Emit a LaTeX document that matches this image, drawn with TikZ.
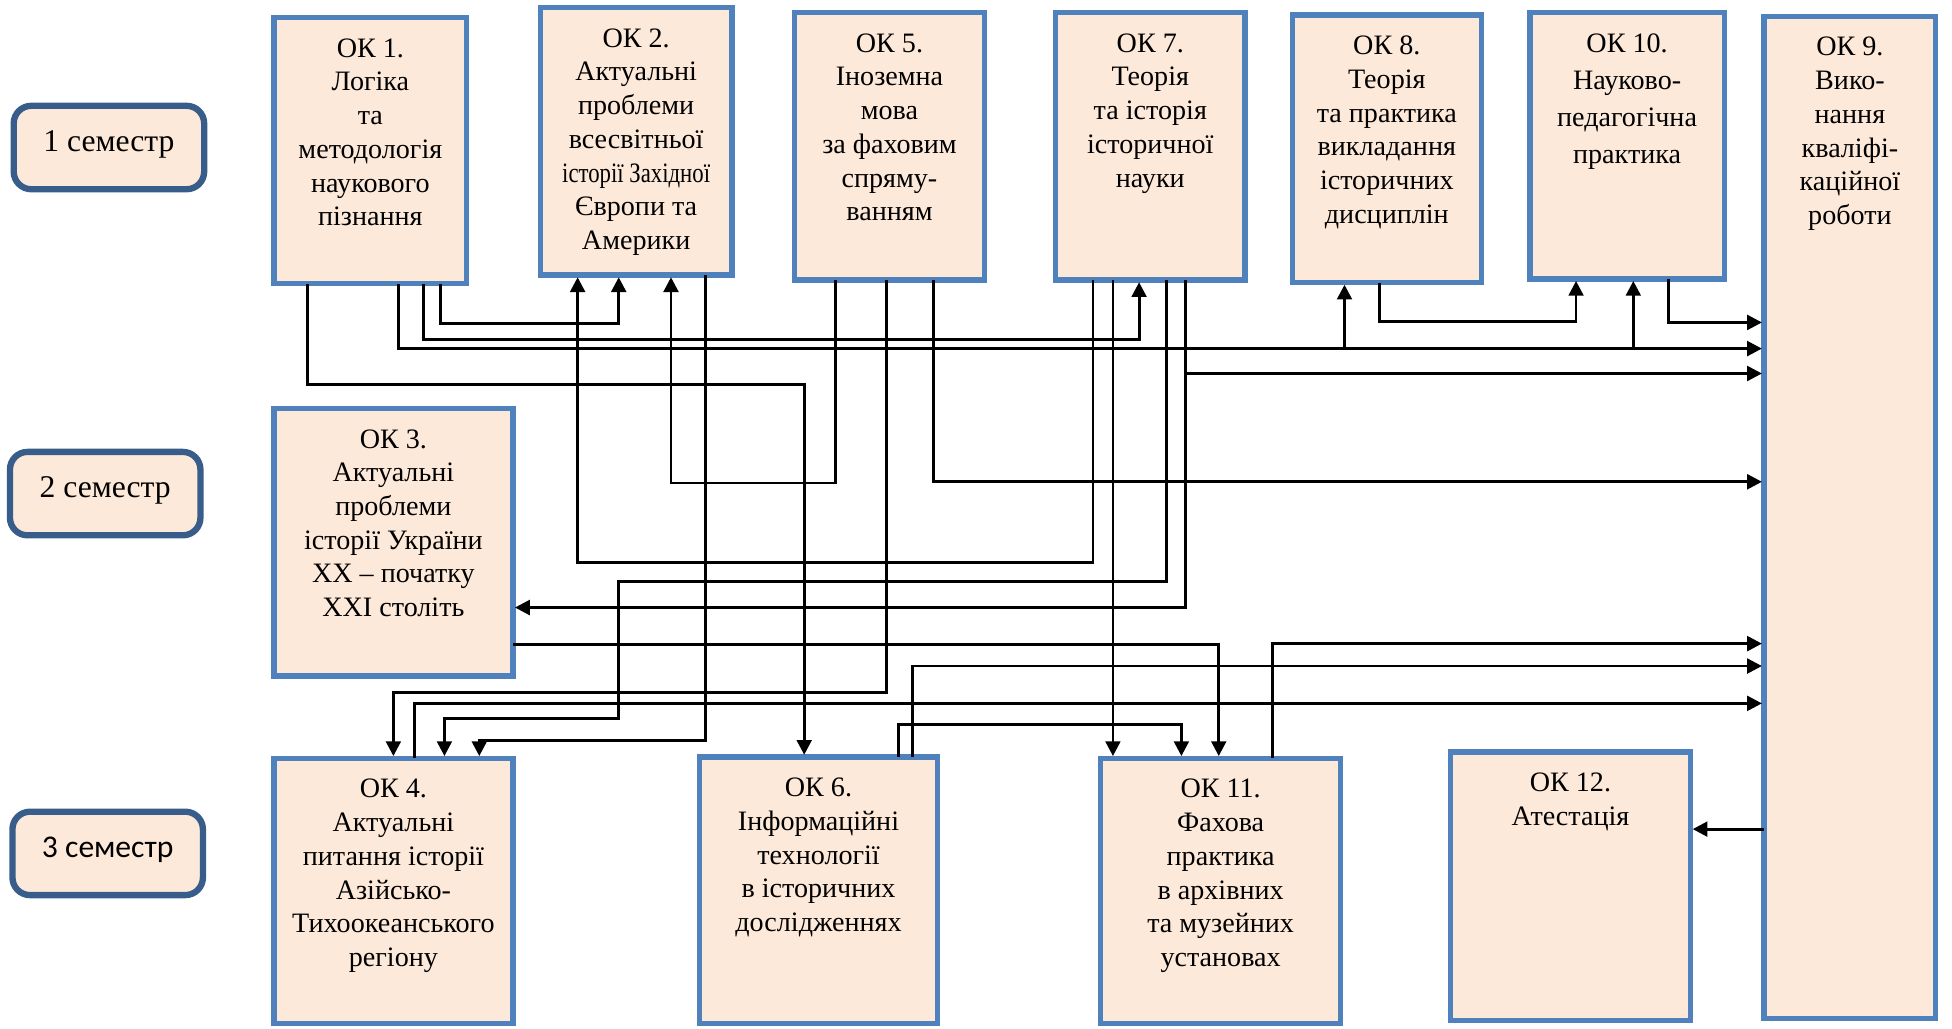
\documentclass[tikz,border=0pt]{standalone}
\usepackage{fontspec}
\setmainfont{Liberation Serif}
\newfontfamily\carlito{Carlito}
\usetikzlibrary{arrows.meta,calc,fit}
\definecolor{okblue}{RGB}{79,129,189}
\definecolor{semblue}{RGB}{56,93,138}
\definecolor{okfill}{RGB}{253,233,217}

\begin{document}
\begin{tikzpicture}[x=0.01245cm,y=-0.01245cm,
    okbox/.style={draw=okblue,line width=1.5pt,fill=okfill,inner sep=0pt,outer sep=0pt},
    oktext/.style={anchor=north,align=center,inner sep=0pt,yshift=-5.8pt,font=\fontsize{8}{9.6}\selectfont},
    sembox/.style={draw=semblue,line width=1.8pt,fill=okfill,rounded corners=5pt,inner sep=0pt,outer sep=0pt},
    semtext/.style={inner sep=0pt,yshift=1pt,font=\fontsize{9}{11}\selectfont},
    arr/.style={line width=0.8pt,-{Triangle[length=4.2pt,width=4.2pt]},shorten >=0.6pt}]

      \useasboundingbox (0,0) rectangle (1568,826);

      % semesters
      \node[sembox,fit={(11,85) (164,152)}] (sem1) {};
      \node[sembox,fit={(8,363) (161,430)}] (sem2) {};
      \node[sembox,fit={(10,652) (163,719)}] (sem3) {};
      \node[semtext] (l1) at (sem1) {1 семестр};
      \node[semtext] (l2) at (sem2) {2 семестр};
      \node[semtext] (l3) at (sem3) {\carlito 3 семестр};

      % courses
      \node[okbox,fit={(220,14) (375,228)}] (ok1) {};
      \node[okbox,fit={(434,6) (588,221)}] (ok2) {};
      \node[okbox,fit={(638,10) (791,225)}] (ok5) {};
      \node[okbox,fit={(848,10) (1000,225)}] (ok7) {};
      \node[okbox,fit={(1038,12) (1190,227)}] (ok8) {};
      \node[okbox,fit={(1229,10) (1385,224)}] (ok10) {};
      \node[okbox,fit={(1417,13) (1555,818)}] (ok9) {};
      \node[okbox,fit={(220,328) (412,543)}] (ok3) {};
      \node[okbox,fit={(220,609) (412,822)}] (ok4) {};
      \node[okbox,fit={(562,608) (753,822)}] (ok6) {};
      \node[okbox,fit={(884,609) (1077,822)}] (ok11) {};
      \node[okbox,fit={(1165,604) (1358,820)}] (ok12) {};

      \node[oktext] (t1) at (ok1.north) {ОК 1.\\Логіка\\та\\методологія\\наукового\\пізнання};
      \node[oktext] (t2) at (ok2.north) {ОК 2.\\Актуальні\\проблеми\\всесвітньої\\\scalebox{0.81}[1]{історії Західної}\\Європи та\\Америки};
      \node[oktext] (t5) at (ok5.north) {ОК 5.\\Іноземна\\мова\\за фаховим\\спряму-\\ванням};
      \node[oktext] (t7) at (ok7.north) {ОК 7.\\Теорія\\та історія\\історичної\\науки};
      \node[oktext] (t8) at (ok8.north) {ОК 8.\\Теорія\\та практика\\викладання\\історичних\\дисциплін};
      \node[oktext,font=\fontsize{8}{10.6}\selectfont] (t10) at (ok10.north) {ОК 10.\\Науково-\\педагогічна\\практика};
      \node[oktext] (t9) at (ok9.north) {ОК 9.\\Вико-\\нання\\кваліфі-\\каційної\\роботи};
      \node[oktext] (t3) at (ok3.north) {ОК 3.\\Актуальні\\проблеми\\історії України\\ХХ – початку\\ХХІ століть};
      \node[oktext] (t4) at (ok4.north) {ОК 4.\\Актуальні\\питання історії\\Азійсько-\\Тихоокеанського\\регіону};
      \node[oktext] (t6) at (ok6.north) {ОК 6.\\Інформаційні\\технології\\в історичних\\дослідженнях};
      \node[oktext] (t11) at (ok11.north) {ОК 11.\\Фахова\\практика\\в архівних\\та музейних\\установах};
      \node[oktext] (t12) at (ok12.north) {ОК 12.\\Атестація};

      % from OK 1
      \draw[arr] ($(ok1.south west)+(27,0)$) -- ++(0,81) -| ($(ok6.north west)+(84,0)$);
      \draw[arr] ($(ok1.south west)+(100,0)$) -- ++(0,52) coordinate (h1) -- (h1 -| ok9.west);
      \draw[arr] ($(ok1.south west)+(120,0)$) -- ++(0,45) -| ($(ok7.south west)+(67,0)$);
      \draw[arr] ($(ok1.south west)+(134,0)$) -- ++(0,32) -| ($(ok2.south west)+(63,0)$);
      \coordinate (p8) at ($(ok8.south west)+(42,0)$);
      \coordinate (p10) at ($(ok10.south west)+(83,0)$);
      \draw[arr] (h1 -| p8) -- (p8);
      \draw[arr] (h1 -| p10) -- (p10);

      % from OK 2 and OK 5
      \draw[arr] ($(ok2.south west)+(133,0)$) -- ++(0,374) -| ($(ok4.north west)+(165,0)$);
      \draw[arr] ($(ok5.south west)+(33,0)$) -- ++(0,163) -| ($(ok2.south west)+(105,0)$);
      \draw[arr] ($(ok5.south west)+(74,0)$) -- ++(0,331) -| ($(ok4.north west)+(96,0)$);
      \draw[arr] ($(ok5.south west)+(112,0)$) -- ++(0,162) coordinate (h5) -- (h5 -| ok9.west);

      % from OK 7
      \draw[arr] ($(ok7.south west)+(30,0)$) -- ++(0,227) -| ($(ok2.south west)+(30,0)$);
      \draw[arr] ($(ok7.south west)+(46,0)$) -- ($(ok11.north west)+(10,0)$);
      \draw[arr] ($(ok7.south west)+(89,0)$) -- ++(0,242) -| ++(-440,110) -| ($(ok4.north west)+(137,0)$);
      \draw[arr] ($(ok7.south west)+(104,0)$) -- ++(0,263) coordinate (h3) -- (h3 -| ok3.east);
      \draw[arr] ($(ok7.south west)+(104,75)$) coordinate (h4) -- (h4 -| ok9.west);

      % from OK 8 and OK 10
      \draw[arr] ($(ok8.south west)+(70,0)$) -- ++(0,31) -| ($(ok10.south west)+(37,0)$);
      \draw[arr] ($(ok10.south west)+(111,0)$) -- ++(0,35) coordinate (h8) -- (h8 -| ok9.west);

      % from OK 3, OK 4, OK 6, OK 11
      \draw[arr] ($(ok3.north east)+(0,190)$) -| ($(ok11.north west)+(95,0)$);
      \draw[arr] ($(ok4.north west)+(113,0)$) -- ++(0,-44) coordinate (h2) -- (h2 -| ok9.west);
      \draw[arr] ($(ok6.north west)+(171,0)$) -- ++(0,-73) coordinate (h6) -- (h6 -| ok9.west);
      \draw[arr] ($(ok6.north west)+(160,0)$) -- ++(0,-26) -| ($(ok11.north west)+(65,0)$);
      \draw[arr] ($(ok11.north west)+(138,0)$) -- ++(0,-92) coordinate (h7) -- (h7 -| ok9.west);

      % to OK 12
      \draw[arr] ($(ok9.north west)+(0,653)$) coordinate (h9) -- (h9 -| ok12.east);
    \end{tikzpicture}
\end{document}
